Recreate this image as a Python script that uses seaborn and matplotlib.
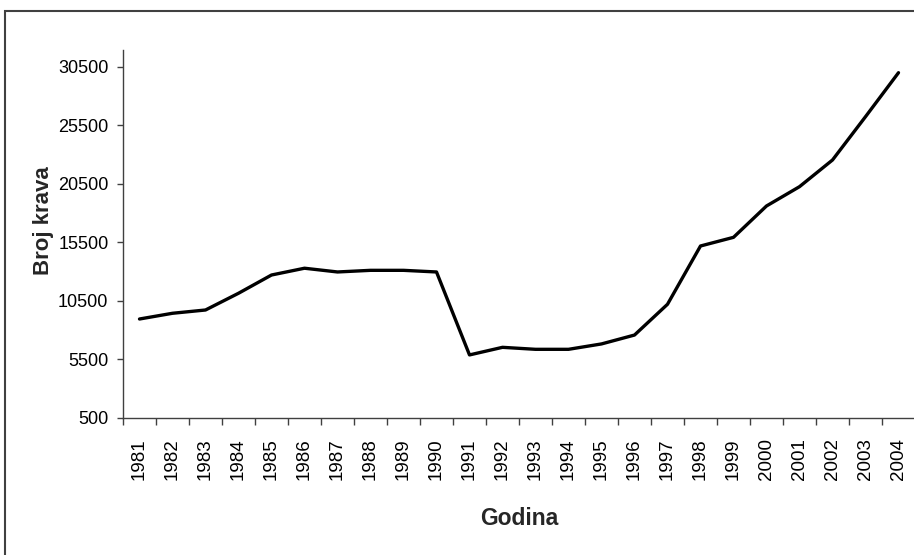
import matplotlib
matplotlib.use("Agg")
import matplotlib.pyplot as plt
import matplotlib.patches as mpatches
from matplotlib.ticker import FixedLocator
import numpy as np
import pandas as pd
import seaborn as sns

# Number of cows per year
godine = list(range(1981, 2005))
broj_krava = [8960, 9450, 9730, 11160, 12720, 13300, 12980, 13120, 13120, 12980,
              5890, 6540, 6370, 6370, 6830, 7590, 10220, 15200, 15940, 18620,
              20270, 22550, 26250, 30010]
y_ticks = [500, 5500, 10500, 15500, 20500, 25500, 30500]

df = pd.DataFrame({"Godina": godine, "Broj krava": broj_krava})

sns.set_theme(style="white")
plt.rcParams["font.family"] = ["Liberation Sans", "DejaVu Sans"]

fig = plt.figure(figsize=(9.14, 5.55), dpi=100)
ax = fig.add_axes([123 / 914, 137 / 555, 792 / 914, 368 / 555])

sns.lineplot(data=df, x="Godina", y="Broj krava", ax=ax,
             color="black", linewidth=2.4)

ax.set_xlim(1980.5, 2004.5)
ax.set_ylim(500, 31950)
ax.set_yticks(y_ticks)
ax.set_yticklabels([str(v) for v in y_ticks])

ax.set_xticks(godine)
ax.set_xticklabels([str(g) for g in godine], rotation=90)
ax.xaxis.set_minor_locator(FixedLocator(np.arange(1980.5, 2005, 1.0)))

spine_col = "#404040"
for side in ["top", "right"]:
    ax.spines[side].set_visible(False)
for side in ["left", "bottom"]:
    ax.spines[side].set_color(spine_col)
    ax.spines[side].set_linewidth(1.0)

ax.tick_params(axis="x", which="major", length=0, pad=14.5,
               labelsize=13.5, labelcolor="black")
ax.tick_params(axis="x", which="minor", length=5, width=1.0,
               color=spine_col, direction="out", bottom=True)
ax.tick_params(axis="y", which="major", length=4, width=1.0,
               color=spine_col, direction="out", left=True, pad=6.5,
               labelsize=13, labelcolor="black")

ax.set_xlabel("Godina", fontsize=16.5, fontweight="bold")
ax.set_ylabel("Broj krava", fontsize=16, fontweight="bold")
ax.xaxis.set_label_coords(0.5, -0.242)
ax.yaxis.set_label_coords(-0.087, 0.535)

# Outer frame around the chart area
frame = mpatches.Rectangle((5 / 914, -0.2), 1.2, 0.2 + (1 - 11 / 555),
                           transform=fig.transFigure, fill=False,
                           edgecolor=spine_col, linewidth=1.5)
fig.patches.append(frame)

fig.savefig("out.png", dpi=100)
